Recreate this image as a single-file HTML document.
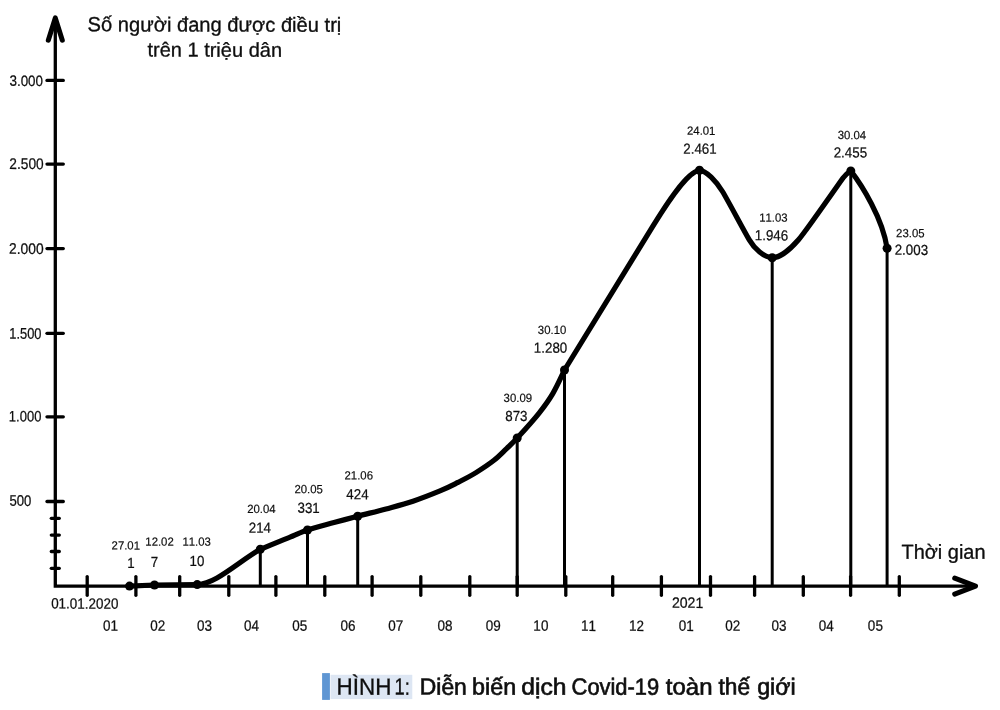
<!DOCTYPE html>
<html><head><meta charset="utf-8"><title>Hình 1</title>
<style>
html,body{margin:0;padding:0;background:#fff;}
body{width:1000px;height:710px;overflow:hidden;font-family:"Liberation Sans",sans-serif;}
svg{display:block;}
svg text{vector-effect:non-scaling-stroke;text-rendering:geometricPrecision;}
</style></head>
<body>
<svg width="1000" height="710" viewBox="0 0 1000 710">
<defs><filter id="bl" x="0" y="0" width="100%" height="100%"><feGaussianBlur stdDeviation="0.45"/></filter></defs>
<rect width="1000" height="710" fill="#fff"/>
<g filter="url(#bl)">
<g stroke="#000" stroke-width="3.3" fill="none" stroke-linecap="round">
<path d="M55.3 18 V586.2 H975" stroke-linejoin="miter" stroke-linecap="butt"/>
<path d="M47 80.4 H63.3"/>
<path d="M47 164.05 H63.3"/>
<path d="M47 248.6 H63.3"/>
<path d="M47 333.3 H63.3"/>
<path d="M47 416.8 H63.3"/>
<path d="M47 501.5 H63.3"/>
<path d="M51.3 518.3 H59.3"/>
<path d="M51.3 535.1 H59.3"/>
<path d="M51.3 551.5 H59.3"/>
<path d="M51.3 568.3 H59.3"/>
<path d="M87.2 576.6 V595.3"/>
<path d="M135.9 576.6 V595.3"/>
<path d="M179.7 576.6 V595.3"/>
<path d="M228.8 576.6 V595.3"/>
<path d="M275.9 576.6 V595.3"/>
<path d="M324.8 576.6 V595.3"/>
<path d="M372.1 576.6 V595.3"/>
<path d="M420.8 576.6 V595.3"/>
<path d="M469.8 576.6 V595.3"/>
<path d="M517.2 576.6 V595.3"/>
<path d="M565.8 576.6 V595.3"/>
<path d="M612.7 576.6 V595.3"/>
<path d="M661.4 576.6 V595.3"/>
<path d="M710.5 576.6 V595.3"/>
<path d="M754.6 576.6 V595.3"/>
<path d="M803.3 576.6 V595.3"/>
<path d="M850.6 576.6 V595.3"/>
<path d="M899.3 576.6 V595.3"/>
</g>
<g stroke="#000" stroke-width="5" fill="none" stroke-linecap="round" stroke-linejoin="round">
<path d="M48.3 40.2 L55.3 17.9 L62.3 40.2"/>
<path d="M954.7 578.2 L975.5 586.2 L954.7 594.2"/>
</g>
<g stroke="#000" stroke-width="3" fill="none">
<path d="M260.3 549.3 V586.2"/>
<path d="M307.5 530.0 V586.2"/>
<path d="M357.7 516.2 V586.2"/>
<path d="M517.2 438 V586.2"/>
<path d="M564.5 370 V586.2"/>
<path d="M699.5 170.3 V586.2"/>
<path d="M772.2 257.7 V586.2"/>
<path d="M850.8 170.9 V586.2"/>
<path d="M887.1 248.2 V586.2"/>
</g>
<g stroke="#000" stroke-width="5.2" fill="none" stroke-linecap="round" stroke-linejoin="round">
<path d="M260.3 549.3 C263.4 548.0 274.1 543.6 279.0 541.6 C283.9 539.6 285.2 539.1 290.0 537.2 C294.8 535.3 300.2 532.4 307.5 530.0 C314.8 527.6 325.6 524.9 334.0 522.6 C342.4 520.3 349.0 518.5 357.7 516.2 C366.4 513.9 376.8 511.4 386.0 508.9 C395.2 506.4 404.0 504.2 413.0 501.2 C422.0 498.2 432.5 494.0 440.0 490.9 C447.5 487.8 452.0 485.4 458.0 482.4 C464.0 479.3 470.0 476.3 476.0 472.6 C482.0 468.9 488.9 464.3 494.0 460.3 C499.1 456.3 502.7 452.3 506.6 448.6 C510.5 444.9 511.8 444.0 517.2 438.1 C522.6 432.2 533.2 420.6 539.1 413.1 C545.0 405.7 548.7 400.6 552.9 393.4 C557.1 386.2 562.6 373.9 564.5 370.0"/>
<path d="M129.5 586.1 L154.5 585.0 L197.2 584.6"/>
<path d="M197.2 584.6 C216 584 238 562 260.3 549.3"/>
<path d="M564.5 370 L653.2 225.6 C665 206.4 687 171.5 699.5 170.3 C706 170.3 716.5 181.5 722.5 191.5 C728.5 201.5 742.8 228.7 749.3 239.9 C754.5 248.9 764 257.5 772.2 257.7 C780 258 791 248.5 798.5 239.8 C806 231 833 192 843 178 C846 174 849 171.9 850.8 170.9"/>
<path d="M850.8 170.9 C862 185.5 882.5 218 887.1 248.2"/>
</g>
<circle cx="129.5" cy="586.1" r="4.5" fill="#000"/>
<circle cx="154.5" cy="585.0" r="4.5" fill="#000"/>
<circle cx="197.2" cy="584.6" r="4.5" fill="#000"/>
<circle cx="260.3" cy="549.3" r="4.5" fill="#000"/>
<circle cx="307.5" cy="530.0" r="4.5" fill="#000"/>
<circle cx="357.7" cy="516.2" r="4.5" fill="#000"/>
<circle cx="517.2" cy="438" r="4.5" fill="#000"/>
<circle cx="564.5" cy="370" r="4.5" fill="#000"/>
<circle cx="699.5" cy="170.3" r="4.5" fill="#000"/>
<circle cx="772.2" cy="257.7" r="4.5" fill="#000"/>
<circle cx="850.8" cy="170.9" r="4.5" fill="#000"/>
<circle cx="887.1" cy="248.2" r="4.5" fill="#000"/>
<g fill="#0c0c0c" font-size="20" font-family="'Liberation Sans', sans-serif" stroke="#0c0c0c" stroke-width="0.3" style="font-kerning:none">
<text transform="translate(9.45 85.86) scale(0.6715 0.7465) matrix(1 .002 0 1 0 0)">3.000</text>
<text transform="translate(9.37 169.08) scale(0.6867 0.7746) matrix(1 .002 0 1 0 0)">2.500</text>
<text transform="translate(9.10 253.87) scale(0.6909 0.7676) matrix(1 .002 0 1 0 0)">2.000</text>
<text transform="translate(9.31 338.82) scale(0.6429 0.7746) matrix(1 .002 0 1 0 0)">1.500</text>
<text transform="translate(8.86 421.51) scale(0.6492 0.7606) matrix(1 .002 0 1 0 0)">1.000</text>
<text transform="translate(9.43 505.85) scale(0.6572 0.7676) matrix(1 .002 0 1 0 0)">500</text>
<text transform="translate(87.59 31.30) scale(1.0068 1.0214) matrix(1 .002 0 1 0 0)">Số người đang được điều trị</text>
<text transform="translate(147.40 56.50) scale(1.0008 1.0071) matrix(1 .002 0 1 0 0)">trên 1 triệu dân</text>
<text transform="translate(901.50 558.70) scale(0.9976 1.0145) matrix(1 .002 0 1 0 0)">Thời gian</text>
<text transform="translate(51.15 608.59) scale(0.6717 0.7535) matrix(1 .002 0 1 0 0)">01.01.2020</text>
<text transform="translate(671.89 607.83) scale(0.7066 0.7465) matrix(1 .002 0 1 0 0)">2021</text>
<text transform="translate(103.11 630.85) scale(0.6748 0.7535) matrix(1 .002 0 1 0 0)">01</text>
<text transform="translate(150.33 630.85) scale(0.6748 0.7535) matrix(1 .002 0 1 0 0)">02</text>
<text transform="translate(196.89 630.69) scale(0.6748 0.7535) matrix(1 .002 0 1 0 0)">03</text>
<text transform="translate(243.89 630.85) scale(0.6748 0.7535) matrix(1 .002 0 1 0 0)">04</text>
<text transform="translate(292.26 630.85) scale(0.6748 0.7535) matrix(1 .002 0 1 0 0)">05</text>
<text transform="translate(340.46 630.85) scale(0.6748 0.7535) matrix(1 .002 0 1 0 0)">06</text>
<text transform="translate(388.28 630.85) scale(0.6748 0.7535) matrix(1 .002 0 1 0 0)">07</text>
<text transform="translate(437.51 630.85) scale(0.6748 0.7535) matrix(1 .002 0 1 0 0)">08</text>
<text transform="translate(485.78 630.85) scale(0.6748 0.7535) matrix(1 .002 0 1 0 0)">09</text>
<text transform="translate(533.37 630.80) scale(0.6748 0.7535) matrix(1 .002 0 1 0 0)">10</text>
<text transform="translate(581.03 630.87) scale(0.6748 0.7535) matrix(1 .002 0 1 0 0)">11</text>
<text transform="translate(629.11 630.86) scale(0.6748 0.7535) matrix(1 .002 0 1 0 0)">12</text>
<text transform="translate(678.77 630.87) scale(0.6748 0.7535) matrix(1 .002 0 1 0 0)">01</text>
<text transform="translate(725.23 630.85) scale(0.6748 0.7535) matrix(1 .002 0 1 0 0)">02</text>
<text transform="translate(771.56 630.85) scale(0.6748 0.7535) matrix(1 .002 0 1 0 0)">03</text>
<text transform="translate(818.71 630.87) scale(0.6748 0.7535) matrix(1 .002 0 1 0 0)">04</text>
<text transform="translate(867.87 630.84) scale(0.6748 0.7535) matrix(1 .002 0 1 0 0)">05</text>
<text transform="translate(111.58 549.58) scale(0.5679 0.5986) matrix(1 .002 0 1 0 0)">27.01</text>
<text transform="translate(127.23 567.99) scale(0.6674 0.7305) matrix(1 .002 0 1 0 0)">1</text>
<text transform="translate(145.33 545.68) scale(0.5679 0.5986) matrix(1 .002 0 1 0 0)">12.02</text>
<text transform="translate(150.76 566.99) scale(0.6674 0.7305) matrix(1 .002 0 1 0 0)">7</text>
<text transform="translate(182.38 545.68) scale(0.5679 0.5986) matrix(1 .002 0 1 0 0)">11.03</text>
<text transform="translate(189.48 565.92) scale(0.6674 0.7305) matrix(1 .002 0 1 0 0)">10</text>
<text transform="translate(247.14 512.98) scale(0.5679 0.5986) matrix(1 .002 0 1 0 0)">20.04</text>
<text transform="translate(248.74 532.74) scale(0.6674 0.7305) matrix(1 .002 0 1 0 0)">214</text>
<text transform="translate(294.46 493.19) scale(0.5679 0.5986) matrix(1 .002 0 1 0 0)">20.05</text>
<text transform="translate(297.50 512.86) scale(0.6674 0.7305) matrix(1 .002 0 1 0 0)">331</text>
<text transform="translate(344.53 479.54) scale(0.5679 0.5986) matrix(1 .002 0 1 0 0)">21.06</text>
<text transform="translate(346.28 499.35) scale(0.6674 0.7305) matrix(1 .002 0 1 0 0)">424</text>
<text transform="translate(503.60 401.88) scale(0.5679 0.5986) matrix(1 .002 0 1 0 0)">30.09</text>
<text transform="translate(505.25 421.02) scale(0.6674 0.7305) matrix(1 .002 0 1 0 0)">873</text>
<text transform="translate(537.85 333.93) scale(0.5679 0.5986) matrix(1 .002 0 1 0 0)">30.10</text>
<text transform="translate(533.85 352.69) scale(0.6674 0.7305) matrix(1 .002 0 1 0 0)">1.280</text>
<text transform="translate(687.00 134.84) scale(0.5679 0.5986) matrix(1 .002 0 1 0 0)">24.01</text>
<text transform="translate(683.28 153.79) scale(0.6674 0.7305) matrix(1 .002 0 1 0 0)">2.461</text>
<text transform="translate(759.24 221.76) scale(0.5679 0.5986) matrix(1 .002 0 1 0 0)">11.03</text>
<text transform="translate(754.75 240.34) scale(0.6674 0.7305) matrix(1 .002 0 1 0 0)">1.946</text>
<text transform="translate(837.64 139.12) scale(0.5679 0.5986) matrix(1 .002 0 1 0 0)">30.04</text>
<text transform="translate(833.70 157.54) scale(0.6674 0.7305) matrix(1 .002 0 1 0 0)">2.455</text>
<text transform="translate(896.09 237.29) scale(0.5679 0.5986) matrix(1 .002 0 1 0 0)">23.05</text>
<text transform="translate(894.70 254.84) scale(0.6674 0.7305) matrix(1 .002 0 1 0 0)">2.003</text>
</g>
<rect x="322.1" y="673.1" width="7.8" height="26.8" fill="#5e96d3"/>
<rect x="330.5" y="674.8" width="81.8" height="24.3" fill="#dde6f3"/>
<g fill="#0c0c0c" font-size="20" font-family="'Liberation Sans', sans-serif" stroke="#0c0c0c" stroke-width="0.55" style="font-kerning:none">
<g stroke-width="0.25">
<text transform="translate(336.60 694.60) scale(1.1228 1.1667) matrix(1 .002 0 1 0 0)">HÌNH</text>
<text transform="translate(394.53 694.60) scale(0.9167 1.1667) matrix(1 .002 0 1 0 0)">1:</text>
</g>
<text transform="translate(419.77 694.60) scale(1.1440 1.1667) matrix(1 .002 0 1 0 0)">Diễn</text>
<text transform="translate(472.10 694.60) scale(1.1667 1.1667) matrix(1 .002 0 1 0 0)">biến</text>
<text transform="translate(521.22 694.60) scale(1.2312 1.1667) matrix(1 .002 0 1 0 0)">dịch</text>
<text transform="translate(571.61 694.60) scale(1.0936 1.1667) matrix(1 .002 0 1 0 0)">Covid-19</text>
<text transform="translate(665.82 694.60) scale(1.1989 1.1667) matrix(1 .002 0 1 0 0)">toàn</text>
<text transform="translate(718.55 694.60) scale(1.1333 1.1667) matrix(1 .002 0 1 0 0)">thế</text>
<text transform="translate(757.17 694.60) scale(1.1645 1.1667) matrix(1 .002 0 1 0 0)">giới</text>
</g>
</g>
</svg>
</body></html>
